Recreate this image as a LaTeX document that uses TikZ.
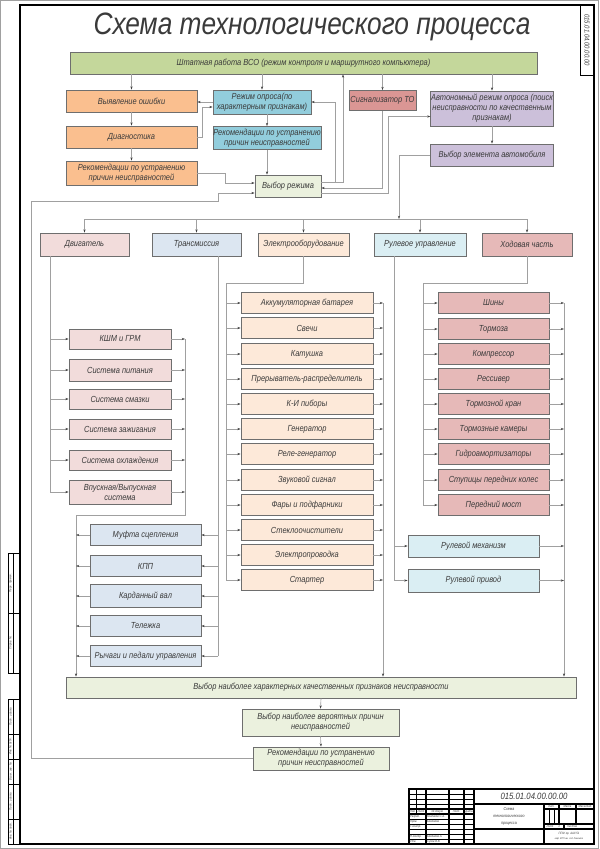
\documentclass[tikz,border=0pt]{standalone}
\usepackage{fontspec}
\setmainfont{Liberation Sans}[FakeStretch=0.85]
\usepackage{tikz}
\usetikzlibrary{arrows.meta,calc}

\definecolor{cTop}{HTML}{C4D79B}
\definecolor{cOrange}{HTML}{FABF8F}
\definecolor{cBlue}{HTML}{92CDDC}
\definecolor{cRed}{HTML}{DA9694}
\definecolor{cViolet}{HTML}{CCC0DA}
\definecolor{cLight}{HTML}{EBF1DE}
\definecolor{cEng}{HTML}{F2DCDB}
\definecolor{cTrans}{HTML}{DCE6F1}
\definecolor{cElec}{HTML}{FDE9D9}
\definecolor{cSteer}{HTML}{DAEEF3}
\definecolor{cChas}{HTML}{E6B9B8}
\definecolor{cLine}{HTML}{A0A0A0}
\definecolor{cEdge}{HTML}{6E6E6E}
\definecolor{cTip}{HTML}{404040}
\definecolor{cText}{HTML}{3A3A3A}

\newcommand{\boxfont}{\itshape\fontsize{12.5}{14}\selectfont}
\newcommand{\tinyfont}{\itshape\fontsize{4.5}{5}\selectfont}

\tikzset{
  box/.style={draw=cEdge, line width=1.1pt, fill=#1, font=\boxfont, text=cText,
    align=center, inner sep=0.5pt},
  line/.style={draw=cLine, line width=0.9pt},
  arr/.style={line, -{Stealth[length=1.6mm,width=1.1mm,color=cTip]}},
  frame/.style={draw=black, line width=1.8pt},
  stamp/.style={draw=black, line width=0.8pt},
  lbl/.style={font=\tinyfont, text=cText, inner sep=0pt},
}

\begin{document}
\begin{tikzpicture}[x=0.5mm, y=-0.5mm]

\useasboundingbox (0,0) rectangle (599,849);

% sheet and frame
\draw[draw=cLine, line width=0.6pt] (0.5,0.5) rectangle (598.5,848.5);
\draw[frame] (20,5) rectangle (594,844);

\node[font=\itshape\fontsize{44}{46}\selectfont, text=cText] (title) at (312,27) {Схема технологического процесса};

% upper part
\node[box=cTop, minimum width=233.5mm, minimum height=11mm] (top) at (303.5,63) {Штатная работа ВСО (режим контроля и маршрутного компьютера)};

\node[box=cOrange, minimum width=65.5mm, minimum height=11mm] (err) at (131.5,101) {Выявление ошибки};
\node[box=cOrange, minimum width=65.5mm, minimum height=11mm] (diag) at (131.5,137) {Диагностика};
\node[box=cOrange, minimum width=65.5mm, minimum height=12mm] (rec1) at (131.5,173) {Рекомендации по устранению\\причин неисправностей};

\node[box=cBlue, minimum width=49mm, minimum height=12mm] (poll) at (262,102) {Режим опроса(по\\характерным признакам)};
\node[box=cBlue, minimum width=54mm, minimum height=11.5mm] (rec2) at (267,138) {Рекомендации по устранению\\причин неисправностей};
\node[box=cLight, minimum width=33mm, minimum height=11mm] (mode) at (288,186) {Выбор режима};

\node[box=cRed, minimum width=33.5mm, minimum height=10mm] (sig) at (382.5,100.5) {Сигнализатор ТО};
\node[box=cViolet, minimum width=61mm, minimum height=17.5mm] (auto) at (492,108.5) {Автономный режим опроса (поиск\\неисправности по качественным\\признакам)};
\node[box=cViolet, minimum width=61.5mm, minimum height=11mm] (elem) at (492,155) {Выбор элемента автомобиля};

\coordinate (ret) at (343,0);
\coordinate (fbA) at (31,201);
\coordinate (fbB) at (218,201);
\coordinate (bus) at (399,219);

\draw[arr] (err.north |- top.south) -- (err.north);
\draw[arr] (poll.north |- top.south) -- (poll.north);
\draw[arr] (sig.north |- top.south) -- (sig.north);
\draw[arr] (auto.north |- top.south) -- (auto.north);

\draw[arr] (err.south) -- (diag.north);
\draw[arr] (diag.south) -- (rec1.north);
\draw[arr] (poll.west) -- (poll.west -| err.east);
\draw[arr] (diag.east) -- ++(5,0) |- ($(poll.west)+(0,5)$);
\draw[arr] (rec2.north |- poll.south) -- (rec2.north);
\draw[arr] (rec2.south) -- (rec2.south |- mode.north);
\draw[arr] (rec1.east) -- ++(28,0) |- ($(mode.west)+(0,-3)$);

\draw[arr] ($(mode.east)+(0,-4)$) -| ($(poll.east)+(24,0)$) -- (poll.east);
\draw[arr] ($(mode.east)+(0,-4)$) -| (ret |- top.south);
\draw[arr] (sig.south) |- ($(mode.east)+(0,2)$);
\draw[arr] ($(mode.east)+(0,7)$) -| ($(auto.west)+(-42,8)$) -- ($(auto.west)+(0,8)$);
\draw[arr] (auto.south) -- (elem.north);
\draw[arr] (elem.west) -| (bus);

% groups
\node[box=cEng, minimum width=44.5mm, minimum height=11.5mm] (eng) at (84.5,244.5) {Двигатель};
\node[box=cTrans, minimum width=44.5mm, minimum height=11.5mm] (trans) at (196.5,244.5) {Трансмиссия};
\node[box=cElec, minimum width=45.5mm, minimum height=11.5mm] (elec) at (303.5,244.5) {Электрооборудование};
\node[box=cSteer, minimum width=46mm, minimum height=11.5mm] (steer) at (420,244.5) {Рулевое управление};
\node[box=cChas, minimum width=45mm, minimum height=11.5mm] (chas) at (527,244.5) {Ходовая часть};

\draw[line] (eng.north |- bus) -- (chas.north |- bus);
\draw[arr] (eng.north |- bus) -- (eng.north);
\draw[arr] (trans.north |- bus) -- (trans.north);
\draw[arr] (elec.north |- bus) -- (elec.north);
\draw[arr] (steer.north |- bus) -- (steer.north);
\draw[arr] (chas.north |- bus) -- (chas.north);

% engine
\node[box=cEng, minimum width=51mm, minimum height=10mm] (e1) at (120,339) {КШМ и ГРМ};
\node[box=cEng, minimum width=51mm, minimum height=11mm] (e2) at (120,370) {Система питания};
\node[box=cEng, minimum width=51mm, minimum height=10mm] (e3) at (120,399) {Система смазки};
\node[box=cEng, minimum width=51mm, minimum height=10mm] (e4) at (120,429) {Система зажигания};
\node[box=cEng, minimum width=51mm, minimum height=10mm] (e5) at (120,460) {Система охлаждения};
\node[box=cEng, minimum width=51mm, minimum height=12mm] (e6) at (120,492) {Впускная/Выпускная\\система};

% transmission
\node[box=cTrans, minimum width=55.5mm, minimum height=10.5mm] (t1) at (145.5,535) {Муфта сцепления};
\node[box=cTrans, minimum width=55.5mm, minimum height=10.5mm] (t2) at (145.5,566) {КПП};
\node[box=cTrans, minimum width=55.5mm, minimum height=11.5mm] (t3) at (145.5,596) {Карданный вал};
\node[box=cTrans, minimum width=55.5mm, minimum height=10.5mm] (t4) at (145.5,626) {Тележка};
\node[box=cTrans, minimum width=55.5mm, minimum height=10.5mm] (t5) at (145.5,656) {Рычаги и педали управления};

% electrical
\node[box=cElec, minimum width=66mm, minimum height=10.5mm] (el1) at (307,303) {Аккумуляторная батарея};
\node[box=cElec, minimum width=66mm, minimum height=10.5mm] (el2) at (307,328) {Свечи};
\node[box=cElec, minimum width=66mm, minimum height=10.5mm] (el3) at (307,354) {Катушка};
\node[box=cElec, minimum width=66mm, minimum height=10.5mm] (el4) at (307,379) {Прерыватель-распределитель};
\node[box=cElec, minimum width=66mm, minimum height=10.5mm] (el5) at (307,404) {К-И пиборы};
\node[box=cElec, minimum width=66mm, minimum height=10.5mm] (el6) at (307,429) {Генератор};
\node[box=cElec, minimum width=66mm, minimum height=10.5mm] (el7) at (307,454) {Реле-генератор};
\node[box=cElec, minimum width=66mm, minimum height=10.5mm] (el8) at (307,480) {Звуковой сигнал};
\node[box=cElec, minimum width=66mm, minimum height=10.5mm] (el9) at (307,505) {Фары и подфарники};
\node[box=cElec, minimum width=66mm, minimum height=10.5mm] (el10) at (307,530) {Стеклоочистители};
\node[box=cElec, minimum width=66mm, minimum height=10.5mm] (el11) at (307,555) {Электропроводка};
\node[box=cElec, minimum width=66mm, minimum height=10.5mm] (el12) at (307,580) {Стартер};

% steering
\node[box=cSteer, minimum width=65.5mm, minimum height=11mm] (s1) at (473.5,546) {Рулевой механизм};
\node[box=cSteer, minimum width=65.5mm, minimum height=11.5mm] (s2) at (473.5,580.5) {Рулевой привод};

% chassis
\node[box=cChas, minimum width=55.5mm, minimum height=10.5mm] (c1) at (493.5,303) {Шины};
\node[box=cChas, minimum width=55.5mm, minimum height=10.5mm] (c2) at (493.5,329) {Тормоза};
\node[box=cChas, minimum width=55.5mm, minimum height=10.5mm] (c3) at (493.5,354) {Компрессор};
\node[box=cChas, minimum width=55.5mm, minimum height=10.5mm] (c4) at (493.5,379) {Рессивер};
\node[box=cChas, minimum width=55.5mm, minimum height=10.5mm] (c5) at (493.5,404) {Тормозной кран};
\node[box=cChas, minimum width=55.5mm, minimum height=10.5mm] (c6) at (493.5,429) {Тормозные камеры};
\node[box=cChas, minimum width=55.5mm, minimum height=10.5mm] (c7) at (493.5,454) {Гидроамортизаторы};
\node[box=cChas, minimum width=55.5mm, minimum height=10.5mm] (c8) at (493.5,480) {Ступицы передних колес};
\node[box=cChas, minimum width=55.5mm, minimum height=10.5mm] (c9) at (493.5,505) {Передний мост};

% lower part
\node[box=cLight, minimum width=255mm, minimum height=10.5mm] (sel) at (321,687.5) {Выбор наиболее характерных качественных признаков неисправности};
\node[box=cLight, minimum width=78.5mm, minimum height=13.5mm] (cause) at (320.5,722.5) {Выбор наиболее вероятных причин\\неисправностей};
\node[box=cLight, minimum width=68mm, minimum height=11.5mm] (rec3) at (321,758.5) {Рекомендации по устранению\\причин неисправностей};

\draw[arr] (sel.south) -- (cause.north);
\draw[arr] (cause.south) -- (rec3.north);
\draw[arr] (rec3.west) -| (fbA) -- (fbB) |- ($(mode.west)+(0,7)$);

\coordinate (eL) at (50,0);
\coordinate (eR) at (185,515);
\coordinate (tL) at (76,515);
\coordinate (tR) at (218,0);
\coordinate (elL) at (226,283);
\coordinate (elR) at (383,0);
\coordinate (sL) at (394,0);
\coordinate (cL) at (423,283);
\coordinate (cR) at (564,0);

% engine buses
\draw[line] (eng.south -| eL) -- (eL |- e6);
\draw[arr] (eL |- e1) -- (e1.west);
\draw[arr] (eL |- e2) -- (e2.west);
\draw[arr] (eL |- e3) -- (e3.west);
\draw[arr] (eL |- e4) -- (e4.west);
\draw[arr] (eL |- e5) -- (e5.west);
\draw[arr] (eL |- e6) -- (e6.west);
\draw[arr] (e1.east) -- (e1.east -| eR);
\draw[arr] (e2.east) -- (e2.east -| eR);
\draw[arr] (e3.east) -- (e3.east -| eR);
\draw[arr] (e4.east) -- (e4.east -| eR);
\draw[arr] (e5.east) -- (e5.east -| eR);
\draw[arr] (e6.east) -- (e6.east -| eR);
\draw[line] (e1.east -| eR) -- (eR) -- (tL);
\draw[arr] (tL) -- (tL |- sel.north);

% transmission buses
\draw[line] (trans.south -| tR) -- (tR |- t5);
\draw[arr] (tR |- t1) -- (t1.east);
\draw[arr] (tR |- t2) -- (t2.east);
\draw[arr] (tR |- t3) -- (t3.east);
\draw[arr] (tR |- t4) -- (t4.east);
\draw[arr] (tR |- t5) -- (t5.east);
\draw[arr] (t1.west) -- (t1.west -| tL);
\draw[arr] (t2.west) -- (t2.west -| tL);
\draw[arr] (t3.west) -- (t3.west -| tL);
\draw[arr] (t4.west) -- (t4.west -| tL);
\draw[arr] (t5.west) -- (t5.west -| tL);

% electrical buses
\draw[line] (elec.south) |- (elL) -- (elL |- el12);
\draw[arr] (elL |- el1) -- (el1.west);
\draw[arr] (elL |- el2) -- (el2.west);
\draw[arr] (elL |- el3) -- (el3.west);
\draw[arr] (elL |- el4) -- (el4.west);
\draw[arr] (elL |- el5) -- (el5.west);
\draw[arr] (elL |- el6) -- (el6.west);
\draw[arr] (elL |- el7) -- (el7.west);
\draw[arr] (elL |- el8) -- (el8.west);
\draw[arr] (elL |- el9) -- (el9.west);
\draw[arr] (elL |- el10) -- (el10.west);
\draw[arr] (elL |- el11) -- (el11.west);
\draw[arr] (elL |- el12) -- (el12.west);
\draw[arr] (el1.east) -- (el1.east -| elR);
\draw[arr] (el2.east) -- (el2.east -| elR);
\draw[arr] (el3.east) -- (el3.east -| elR);
\draw[arr] (el4.east) -- (el4.east -| elR);
\draw[arr] (el5.east) -- (el5.east -| elR);
\draw[arr] (el6.east) -- (el6.east -| elR);
\draw[arr] (el7.east) -- (el7.east -| elR);
\draw[arr] (el8.east) -- (el8.east -| elR);
\draw[arr] (el9.east) -- (el9.east -| elR);
\draw[arr] (el10.east) -- (el10.east -| elR);
\draw[arr] (el11.east) -- (el11.east -| elR);
\draw[arr] (el12.east) -- (el12.east -| elR);
\draw[arr] (el1.east -| elR) -- (elR |- sel.north);

% steering buses
\draw[line] (steer.south -| sL) -- (sL |- s2);
\draw[arr] (sL |- s1) -- (s1.west);
\draw[arr] (sL |- s2) -- (s2.west);
\draw[arr] (s1.east) -- (s1.east -| cR);
\draw[arr] (s2.east) -- (s2.east -| cR);

% chassis buses
\draw[line] (chas.south) |- (cL) -- (cL |- c9);
\draw[arr] (cL |- c1) -- (c1.west);
\draw[arr] (cL |- c2) -- (c2.west);
\draw[arr] (cL |- c3) -- (c3.west);
\draw[arr] (cL |- c4) -- (c4.west);
\draw[arr] (cL |- c5) -- (c5.west);
\draw[arr] (cL |- c6) -- (c6.west);
\draw[arr] (cL |- c7) -- (c7.west);
\draw[arr] (cL |- c8) -- (c8.west);
\draw[arr] (cL |- c9) -- (c9.west);
\draw[arr] (c1.east) -- (c1.east -| cR);
\draw[arr] (c2.east) -- (c2.east -| cR);
\draw[arr] (c3.east) -- (c3.east -| cR);
\draw[arr] (c4.east) -- (c4.east -| cR);
\draw[arr] (c5.east) -- (c5.east -| cR);
\draw[arr] (c6.east) -- (c6.east -| cR);
\draw[arr] (c7.east) -- (c7.east -| cR);
\draw[arr] (c8.east) -- (c8.east -| cR);
\draw[arr] (c9.east) -- (c9.east -| cR);
\draw[arr] (c1.east -| cR) -- (cR |- sel.north);

% top right cell
\draw[stamp] (580,5) rectangle (594,75);
\node[rotate=-90, font=\itshape\fontsize{10}{11}\selectfont, text=cText] (dsg2) at (587,40) {015.01.04.00.00.00};

% left margin cells
\draw[stamp] (8,553) rectangle (20,673);
\draw[stamp] (13,553) -- (13,673);
\draw[stamp] (8,613) -- (20,613);
\draw[stamp] (8,699) rectangle (20,844);
\draw[stamp] (13,699) -- (13,844);
\draw[stamp] (8,734) -- (20,734);
\draw[stamp] (8,759) -- (20,759);
\draw[stamp] (8,784) -- (20,784);
\draw[stamp] (8,819) -- (20,819);
\node[lbl, rotate=90] (m1) at (10.5,583) {Перв. примен.};
\node[lbl, rotate=90] (m2) at (10.5,643) {Справ. №};
\node[lbl, rotate=90] (m3) at (10.5,716.5) {Подп. и дата};
\node[lbl, rotate=90] (m4) at (10.5,746.5) {Инв. № дубл.};
\node[lbl, rotate=90] (m5) at (10.5,771.5) {Взам. инв. №};
\node[lbl, rotate=90] (m6) at (10.5,801.5) {Подп. и дата};
\node[lbl, rotate=90] (m7) at (10.5,831.5) {Инв. № подл.};

% title block
\draw[frame] (409,789) rectangle (594,844);
\draw[stamp] (409,794) -- (474,794);
\draw[stamp] (409,799) -- (474,799);
\draw[stamp] (409,804) -- (474,804);
\draw[frame] (409,809) -- (474,809);
\draw[frame] (409,814) -- (474,814);
\draw[stamp] (409,819) -- (474,819);
\draw[stamp] (409,824) -- (474,824);
\draw[stamp] (409,829) -- (474,829);
\draw[stamp] (409,834) -- (474,834);
\draw[stamp] (409,839) -- (474,839);
\draw[stamp] (416,789) -- (416,814);
\draw[frame] (426,789) -- (426,844);
\draw[frame] (449,789) -- (449,844);
\draw[frame] (464,789) -- (464,844);
\draw[frame] (474,789) -- (474,844);
\draw[frame] (474,804) -- (594,804);
\draw[frame] (544,804) -- (544,844);
\draw[frame] (474,829) -- (594,829);
\draw[frame] (544,809) -- (594,809);
\draw[frame] (544,824) -- (594,824);
\draw[frame] (559,804) -- (559,824);
\draw[frame] (576,804) -- (576,824);
\draw[stamp] (549,809) -- (549,824);
\draw[stamp] (554,809) -- (554,824);
\draw[frame] (564,824) -- (564,829);

\node[font=\itshape\fontsize{13}{14}\selectfont, text=cText] (dsg) at (534,796.5) {015.01.04.00.00.00};
\node[font=\itshape\fontsize{6}{9.5}\selectfont, text=cText, align=center] (nm) at (509,816.5) {Схема\\технологического\\процесса};

\node[lbl] (h1) at (412.5,811.5) {Изм.};
\node[lbl] (h2) at (421,811.5) {Лист};
\node[lbl] (h3) at (437.5,811.5) {№ докум.};
\node[lbl] (h4) at (456.5,811.5) {Подп.};
\node[lbl] (h5) at (469,811.5) {Дата};
\node[lbl, anchor=west] (r1) at (410,816.5) {Разраб.};
\node[lbl, anchor=west] (r2) at (410,821.5) {Пров.};
\node[lbl, anchor=west] (r3) at (410,826.5) {Т.контр.};
\node[lbl, anchor=west] (r4) at (410,836.5) {Н.контр.};
\node[lbl, anchor=west] (r5) at (410,841.5) {Утв.};
\node[lbl, anchor=west] (n1) at (427,816.5) {Кондаков С.А.};
\node[lbl, anchor=west] (n2) at (427,821.5) {Бойдаков};
\node[lbl, anchor=west] (n4) at (427,836.5) {Бойбаков А.};
\node[lbl, anchor=west] (n5) at (427,841.5) {Сухов В.В.};

\node[lbl] (k1) at (551.5,806.5) {Лит.};
\node[lbl] (k2) at (567.5,806.5) {Масса};
\node[lbl] (k3) at (585,806.5) {Масштаб};
\node[lbl] (k4) at (550,826.5) {Лист};
\node[lbl] (k5) at (559,826.5) {1};
\node[lbl] (k6) at (572,826.5) {Листов};
\node[lbl] (o1) at (569,834) {ПГАУ гр. ААУ-51};
\node[lbl, font=\itshape\fontsize{3.5}{4}\selectfont] (o2) at (569,839) {каф. МТП им. А.И. Ремонта};

\end{tikzpicture}
\end{document}
